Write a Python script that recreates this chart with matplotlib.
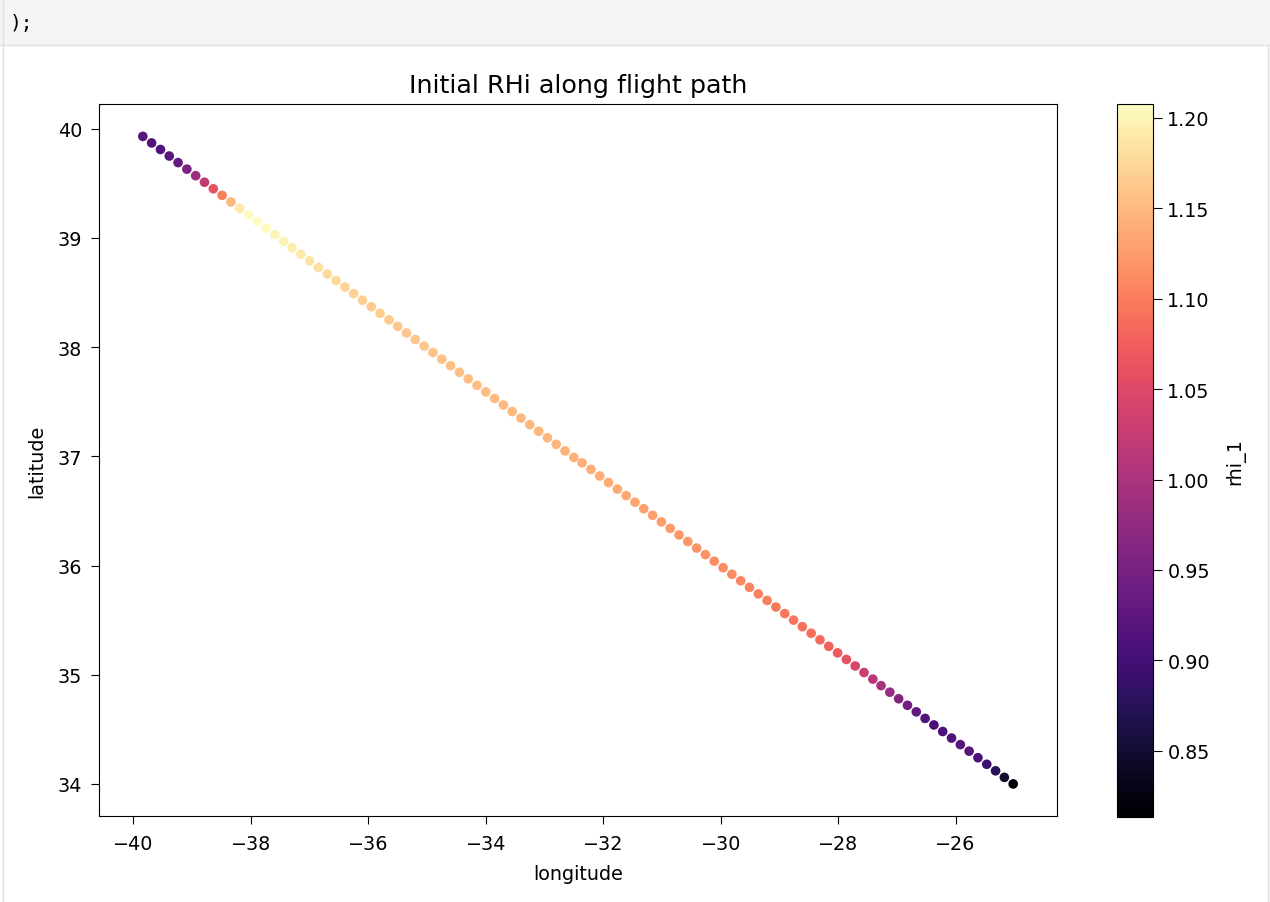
import matplotlib
matplotlib.use("Agg")
import matplotlib.pyplot as plt
from matplotlib.patches import Rectangle
from matplotlib.lines import Line2D

longitude = [
    -39.84, -39.69, -39.54, -39.39, -39.24, -39.09, -38.94, -38.79, -38.64, -38.49,
    -38.34, -38.19, -38.04, -37.89, -37.74, -37.59, -37.44, -37.30, -37.15, -37.00,
    -36.85, -36.70, -36.55, -36.40, -36.25, -36.10, -35.95, -35.80, -35.65, -35.50,
    -35.35, -35.20, -35.05, -34.90, -34.75, -34.60, -34.45, -34.30, -34.15, -34.00,
    -33.85, -33.70, -33.55, -33.40, -33.25, -33.10, -32.95, -32.80, -32.65, -32.50,
    -32.36, -32.21, -32.06, -31.91, -31.76, -31.61, -31.46, -31.31, -31.16, -31.01,
    -30.86, -30.71, -30.56, -30.41, -30.26, -30.11, -29.96, -29.81, -29.66, -29.51,
    -29.36, -29.21, -29.06, -28.91, -28.76, -28.61, -28.46, -28.31, -28.16, -28.01,
    -27.86, -27.71, -27.56, -27.41, -27.27, -27.12, -26.97, -26.82, -26.67, -26.52,
    -26.37, -26.22, -26.07, -25.92, -25.77, -25.62, -25.47, -25.32, -25.17, -25.02,
]

latitude = [
    39.93, 39.87, 39.81, 39.75, 39.69, 39.63, 39.57, 39.51, 39.45, 39.39,
    39.33, 39.27, 39.21, 39.15, 39.09, 39.03, 38.97, 38.91, 38.85, 38.79,
    38.73, 38.67, 38.61, 38.55, 38.49, 38.43, 38.37, 38.31, 38.25, 38.19,
    38.13, 38.07, 38.01, 37.95, 37.89, 37.83, 37.77, 37.71, 37.65, 37.59,
    37.53, 37.47, 37.41, 37.35, 37.29, 37.23, 37.17, 37.11, 37.05, 36.99,
    36.94, 36.88, 36.82, 36.76, 36.70, 36.64, 36.58, 36.52, 36.46, 36.40,
    36.34, 36.28, 36.22, 36.16, 36.10, 36.04, 35.98, 35.92, 35.86, 35.80,
    35.74, 35.68, 35.62, 35.56, 35.50, 35.44, 35.38, 35.32, 35.26, 35.20,
    35.14, 35.08, 35.02, 34.96, 34.90, 34.84, 34.78, 34.72, 34.66, 34.60,
    34.54, 34.48, 34.42, 34.36, 34.30, 34.24, 34.18, 34.12, 34.06, 34.00,
]

rhi_1 = [
    0.920, 0.915, 0.915, 0.920, 0.935, 0.955, 0.985, 1.020, 1.060, 1.100,
    1.150, 1.190, 1.205, 1.2077, 1.205, 1.200, 1.198, 1.195, 1.190, 1.186,
    1.182, 1.178, 1.175, 1.172, 1.170, 1.168, 1.166, 1.165, 1.164, 1.163,
    1.162, 1.161, 1.160, 1.159, 1.158, 1.157, 1.156, 1.155, 1.154, 1.153,
    1.152, 1.151, 1.150, 1.149, 1.148, 1.147, 1.146, 1.145, 1.144, 1.143,
    1.142, 1.141, 1.140, 1.139, 1.137, 1.135, 1.133, 1.131, 1.129, 1.127,
    1.125, 1.123, 1.121, 1.119, 1.117, 1.115, 1.113, 1.111, 1.109, 1.107,
    1.105, 1.102, 1.099, 1.096, 1.093, 1.090, 1.088, 1.084, 1.078, 1.070,
    1.060, 1.045, 1.030, 1.015, 0.998, 0.980, 0.960, 0.945, 0.930, 0.915,
    0.905, 0.910, 0.915, 0.920, 0.920, 0.910, 0.895, 0.875, 0.850, 0.8135,
]

plt.rcParams['font.family'] = ['DejaVu Sans']
fs = 13.8

fig = plt.figure(figsize=(12.7, 9.03), dpi=100)
fig.patch.set_facecolor('white')

# notebook cell band
fig.patches.append(Rectangle((0, 1 - 46 / 903), 1, 46 / 903, transform=fig.transFigure,
                             facecolor='#f5f5f5', edgecolor='none', zorder=0))
fig.lines.append(Line2D([0, 1], [1 - 46 / 903, 1 - 46 / 903], transform=fig.transFigure,
                        color='#e0e0e0', lw=1))
fig.lines.append(Line2D([2.5 / 1270, 2.5 / 1270], [0, 1], transform=fig.transFigure,
                        color='#e0e0e0', lw=1))
fig.lines.append(Line2D([1267.5 / 1270, 1267.5 / 1270], [0, 1 - 46 / 903], transform=fig.transFigure,
                        color='#e0e0e0', lw=1))
fig.text(10 / 1270, 1 - 24 / 903, ');', family='DejaVu Sans Mono', fontsize=14,
         va='center', ha='left', color='#000000')

ax = fig.add_axes([99.3 / 1270, 1 - 817.3 / 903, (1056.7 - 99.3) / 1270, (817.3 - 105) / 903])
cax = fig.add_axes([1116.7 / 1270, 1 - 817.7 / 903, 36 / 1270, (817.7 - 105) / 903])

sc = ax.scatter(longitude, latitude, c=rhi_1, cmap='magma', s=48, edgecolors='face', linewidths=0)
cb = fig.colorbar(sc, cax=cax)
cb.set_label('rhi_1', fontsize=fs, labelpad=11)
cb.ax.tick_params(labelsize=fs, length=6.5, pad=4)

ax.set_title('Initial RHi along flight path', fontsize=18.3, pad=9)
ax.set_xlabel('longitude', fontsize=fs, labelpad=8)
ax.set_ylabel('latitude', fontsize=fs, labelpad=8)
ax.tick_params(labelsize=fs, length=5.5, pad=7)

fig.savefig('out.png', dpi=100)
